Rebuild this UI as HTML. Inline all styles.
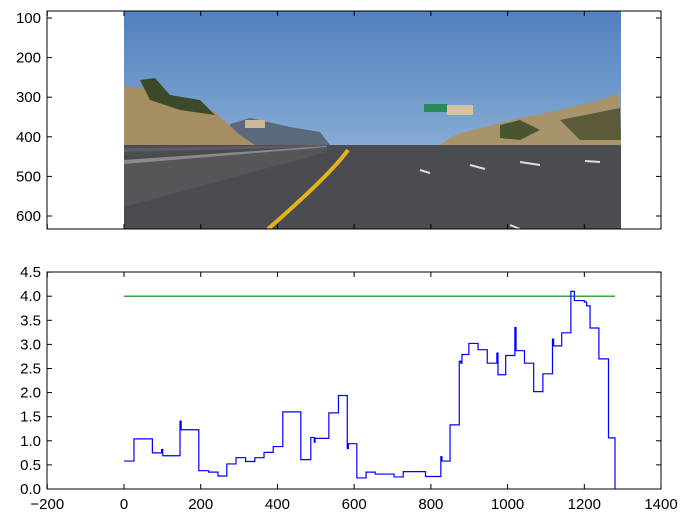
<!DOCTYPE html>
<html><head><meta charset="utf-8"><style>
body{margin:0;background:#fff;}
svg{display:block;font-family:"Liberation Sans",sans-serif;}
</style></head><body>
<svg id="fig" width="698" height="524" viewBox="0 0 698 524">
<defs>
<linearGradient id="sky" x1="0" y1="0" x2="0" y2="1">
<stop offset="0" stop-color="#4f80be"/><stop offset="1" stop-color="#a9c6e2"/>
</linearGradient>
<clipPath id="imgclip"><rect x="124" y="11" width="497" height="218"/></clipPath>
</defs>
<g>
<rect x="47" y="11" width="614" height="218" fill="#fff"/>
<g clip-path="url(#imgclip)">
<rect x="124" y="11" width="497" height="218" fill="url(#sky)"/>
<polygon points="230,124 250,118 290,127 320,132 330,145 230,145" fill="#5a6a7a"/>
<polygon points="124,86 150,88 190,102 215,112 240,135 255,145 124,145" fill="#a58e62"/>
<polygon points="140,80 155,78 170,95 200,100 215,115 180,110 150,100" fill="#3d4a2a"/>
<polygon points="620,93 600,100 560,110 520,118 480,128 455,135 440,145 621,145" fill="#a8946a"/>
<polygon points="560,120 600,112 620,108 621,140 580,140" fill="#5b5a3a"/>
<polygon points="500,125 520,120 540,130 520,140 500,138" fill="#4a5530"/>
<rect x="245" y="120" width="20" height="8" fill="#cdb79a"/>
<rect x="424" y="104" width="23" height="8" fill="#2a8a5a"/>
<rect x="447" y="105" width="26" height="10" fill="#d6c2a2"/>
<polygon points="124,145 621,145 621,229 124,229" fill="#4b4b52"/>
<polygon points="124,148 327,145 327,147 124,152" fill="#5c5c62"/>
<polygon points="124,160 327,146 327,152 124,207" fill="#56565a"/>
<polygon points="124,160 327,146 327,147 124,164" fill="#8a8a8a"/>
<path d="M268,229 Q330,175 348,150" stroke="#e6b418" stroke-width="4" fill="none"/>
<path d="M420,170 L430,173 M470,165 L485,169 M520,162 L540,165 M585,161 L600,162 M510,225 L520,229" stroke="#ddd" stroke-width="2"/>
</g>
<rect x="47" y="11" width="614" height="218" fill="none" stroke="#000" stroke-width="1"/>
<g id="topticks" font-size="15" text-anchor="end"></g>
</g>
<g>
<rect x="47" y="272" width="614" height="217" fill="none" stroke="#000" stroke-width="1"/>
<g id="bticks" font-size="15"></g>
<path id="limit" fill="none" stroke="#008000" stroke-width="1.2"/>
<path id="series" fill="none" stroke="#0000ff" stroke-width="1.2"/>
</g>
</svg>
<script>
const xTicks=[-200,0,200,400,600,800,1000,1200,1400];
const yTicks=[0,0.5,1,1.5,2,2.5,3,3.5,4,4.5];
const yTickLabels=["0.0","0.5","1.0","1.5","2.0","2.5","3.0","3.5","4.0","4.5"];
const topYTicks=[100,200,300,400,500,600];
const stepX=[0,26,74,98,99,101,146,147,149,195,221,245,268,292,317,341,365,389,414,461,487,496,498,534,559,582,583,585,607,631,655,704,728,786,826,827,829,850,874,875,878,881,899,923,947,972,973,975,995,1019,1020,1022,1044,1068,1092,1117,1118,1120,1141,1165,1174,1200,1206,1215,1238,1263,1280];
const stepY=[0.58,1.04,0.75,0.82,0.82,0.69,1.41,1.41,1.23,0.38,0.35,0.27,0.52,0.65,0.57,0.65,0.76,0.88,1.6,0.61,1.07,0.97,1.05,1.58,1.94,0.84,0.84,0.94,0.23,0.35,0.31,0.25,0.36,0.26,0.67,0.67,0.58,1.33,2.65,2.65,2.61,2.79,3.02,2.89,2.61,2.82,2.82,2.37,2.77,3.35,3.35,2.87,2.61,2.02,2.39,3.11,3.11,2.97,3.24,4.1,3.91,3.88,3.8,3.34,2.7,1.06,0];
const limitValue=4.0;
const limitRange=[0,1280];
const sx=v=>124+(v)*0.3836;
const sy=v=>489-v*48.2;
const ty=v=>18+(v-100)*0.396;
const NS="http://www.w3.org/2000/svg";
function mk(tag,attrs,parent){const e=document.createElementNS(NS,tag);for(const k in attrs)e.setAttribute(k,attrs[k]);parent.appendChild(e);return e;}
const tt=document.getElementById('topticks');
topYTicks.forEach(v=>{const y=ty(v);
mk('line',{x1:47,x2:52,y1:y,y2:y,stroke:'#000'},tt);
mk('line',{x1:656,x2:661,y1:y,y2:y,stroke:'#000'},tt);
const t=mk('text',{x:41,y:y+5},tt);t.textContent=v;

});
xTicks.forEach(v=>{const x=sx(v);
mk('line',{x1:x,x2:x,y1:229,y2:224,stroke:'#000'},tt);
mk('line',{x1:x,x2:x,y1:11,y2:16,stroke:'#000'},tt);});
const bt=document.getElementById('bticks');
xTicks.forEach(v=>{const x=sx(v);
mk('line',{x1:x,x2:x,y1:489,y2:484,stroke:'#000'},bt);
mk('line',{x1:x,x2:x,y1:272,y2:277,stroke:'#000'},bt);
const t=mk('text',{x:x,y:509,'text-anchor':'middle'},bt);t.textContent=(v<0?'\u2212'+(-v):v);

});
yTicks.forEach((v,i)=>{const y=sy(v);
mk('line',{x1:47,x2:52,y1:y,y2:y,stroke:'#000'},bt);
mk('line',{x1:656,x2:661,y1:y,y2:y,stroke:'#000'},bt);
const t=mk('text',{x:41,y:y+5,'text-anchor':'end'},bt);t.textContent=yTickLabels[i];

});
document.getElementById('limit').setAttribute('d','M'+sx(limitRange[0])+','+sy(limitValue)+' L'+sx(limitRange[1])+','+sy(limitValue));
let d='';
for(let i=0;i<stepX.length;i++){
 const x=sx(stepX[i]),y=sy(stepY[i]);
 if(i===0)d+='M'+x+','+y;
 else d+=' L'+x+','+sy(stepY[i-1])+' L'+x+','+y;
}
document.getElementById('series').setAttribute('d',d);
</script>
</body></html>
